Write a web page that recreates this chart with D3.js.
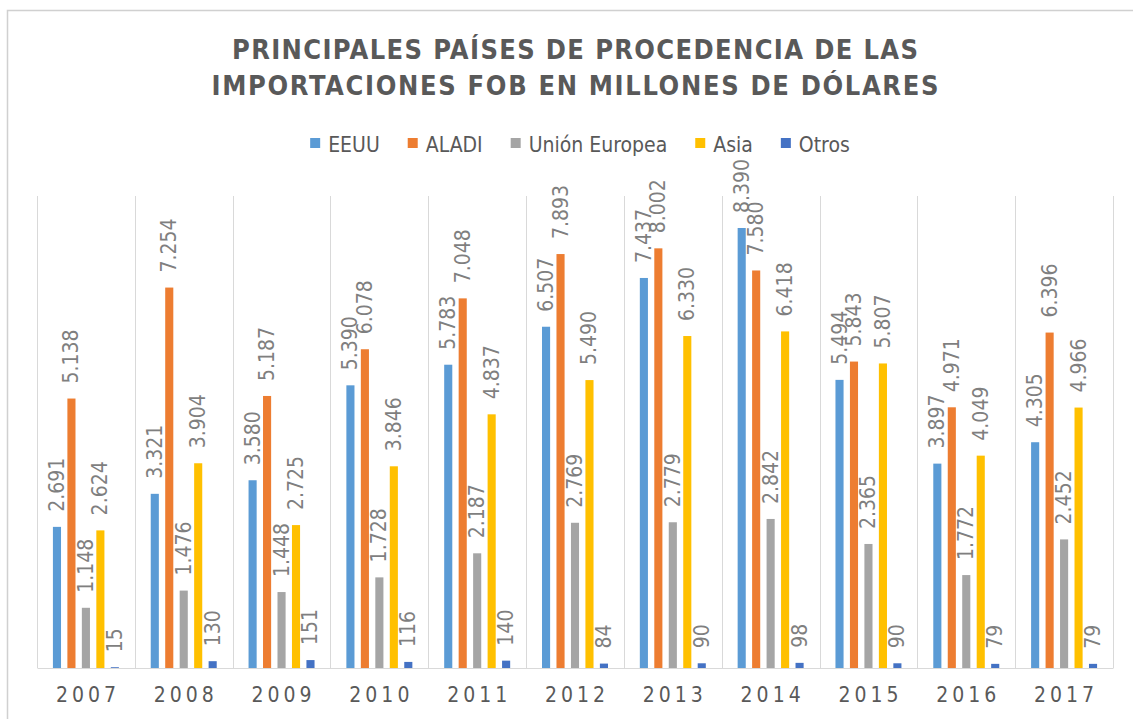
<!DOCTYPE html>
<html>
<head>
<meta charset="utf-8">
<script src="https://cdn.jsdelivr.net/npm/d3@7"></script>
<style>
  body { margin: 0; background: #fff; }
  text { font-family: "Liberation Sans Narrow", "DejaVu Sans Condensed", "Liberation Sans", sans-serif; }
</style>
</head>
<body>
<div id="chart"></div>
<script>
var svgWidth = 1133;
var svgHeight = 719;

// plot area
var margin = { top: 196, right: 20, bottom: 51, left: 37 };
var width = 1113 - margin.left;
var height = 668 - margin.top;

// data
var years = ["2007", "2008", "2009", "2010", "2011", "2012", "2013", "2014", "2015", "2016", "2017"];
var seriesNames = ["EEUU", "ALADI", "Unión Europea", "Asia", "Otros"];
var seriesColors = ["#5B9BD5", "#ED7D31", "#A5A5A5", "#FFC000", "#4472C4"];
var eeuu = [2691, 3321, 3580, 5390, 5783, 6507, 7437, 8390, 5494, 3897, 4305];
var aladi = [5138, 7254, 5187, 6078, 7048, 7893, 8002, 7580, 5843, 4971, 6396];
var unionEuropea = [1148, 1476, 1448, 1728, 2187, 2769, 2779, 2842, 2365, 1772, 2452];
var asia = [2624, 3904, 2725, 3846, 4837, 5490, 6330, 6418, 5807, 4049, 4966];
var otros = [15, 130, 151, 116, 140, 84, 90, 98, 90, 79, 79];
var seriesValues = [eeuu, aladi, unionEuropea, asia, otros];

var titleLines = ["PRINCIPALES PAÍSES DE PROCEDENCIA DE LAS", "IMPORTACIONES FOB EN MILLONES DE DÓLARES"];
var titleWidths = [686, 727];

// numbers use "." as thousands separator
var locale = d3.formatLocale({ decimal: ",", thousands: ".", grouping: [3], currency: ["$", ""] });
var fmt = locale.format(",d");

var svg = d3.select("#chart")
  .append("svg")
  .attr("width", svgWidth)
  .attr("height", svgHeight);

// chart border
svg.append("rect")
  .attr("x", 7.5)
  .attr("y", 10.5)
  .attr("width", 1140)
  .attr("height", 730)
  .attr("fill", "#fff")
  .attr("stroke", "#d0d0d0")
  .attr("stroke-width", 1.5);

// title
svg.append("g").selectAll("text")
  .data(titleLines)
  .enter()
  .append("text")
  .attr("x", 575)
  .attr("y", (d, i) => 59 + i * 36)
  .attr("text-anchor", "middle")
  .attr("fill", "#595959")
  .attr("font-size", "27px")
  .attr("font-weight", "bold")
  .attr("textLength", (d, i) => titleWidths[i])
  .attr("lengthAdjust", "spacing")
  .text(d => d);

// legend
var legend = svg.append("g");
var cursor = 0;
seriesNames.forEach(function(name, i) {
  var item = legend.append("g").attr("transform", `translate(${cursor}, 0)`);
  item.append("rect")
    .attr("x", 0)
    .attr("y", -14)
    .attr("width", 10)
    .attr("height", 10)
    .attr("fill", seriesColors[i]);
  var t = item.append("text")
    .attr("x", 18)
    .attr("y", 0)
    .attr("fill", "#595959")
    .attr("font-size", "21px")
    .text(name);
  cursor += 18 + t.node().getComputedTextLength() + 28;
});
var legendWidth = cursor - 28;
legend.attr("transform", `translate(${580 - legendWidth / 2}, 152)`);

var chartGroup = svg.append("g")
  .attr("transform", `translate(${margin.left}, ${margin.top})`);

// scales
var x0 = d3.scaleBand()
  .domain(years)
  .range([0, width])
  .padding(0);

var x1 = d3.scaleBand()
  .domain(seriesNames)
  .range([0, x0.bandwidth()])
  .paddingInner(0.44)
  .paddingOuter(1.1);

var y = d3.scaleLinear()
  .domain([0, 9000])
  .range([height, 0]);

// vertical separators between categories
var bounds = years.map(d => x0(d)).concat([width]);
chartGroup.append("g").selectAll("line")
  .data(bounds)
  .enter()
  .append("line")
  .attr("x1", d => Math.round(d) + 0.5)
  .attr("x2", d => Math.round(d) + 0.5)
  .attr("y1", 0)
  .attr("y2", height)
  .attr("stroke", "#d9d9d9")
  .attr("stroke-width", 1);

// x axis
var xAxis = chartGroup.append("g")
  .attr("transform", `translate(0, ${height})`)
  .call(d3.axisBottom(x0).tickSize(0).tickPadding(19));
xAxis.select(".domain").attr("stroke", "#d9d9d9");
xAxis.selectAll("text")
  .attr("fill", "#595959")
  .attr("font-size", "21px")
  .attr("letter-spacing", "4px")
  .attr("dx", "2px")
  .style("font-family", "\"Liberation Sans Narrow\", \"DejaVu Sans Condensed\", \"Liberation Sans\", sans-serif");

// rows of (year, series, value)
var rows = [];
years.forEach(function(yr, j) {
  seriesNames.forEach(function(s, i) {
    rows.push({ year: yr, series: s, color: seriesColors[i], value: seriesValues[i][j] });
  });
});

// bars
chartGroup.append("g").selectAll("rect")
  .data(rows)
  .enter()
  .append("rect")
  .attr("x", d => x0(d.year) + x1(d.series))
  .attr("y", d => y(d.value))
  .attr("width", x1.bandwidth())
  .attr("height", d => height - y(d.value))
  .attr("fill", d => d.color);

// rotated value labels
chartGroup.append("g").selectAll("text")
  .data(rows)
  .enter()
  .append("text")
  .attr("transform", d => `translate(${x0(d.year) + x1(d.series) + x1.bandwidth() / 2 + 7}, ${y(d.value) - 15}) rotate(-90)`)
  .attr("fill", "#7f7f7f")
  .attr("font-size", "21px")
  .text(d => fmt(d.value));
</script>
</body>
</html>
